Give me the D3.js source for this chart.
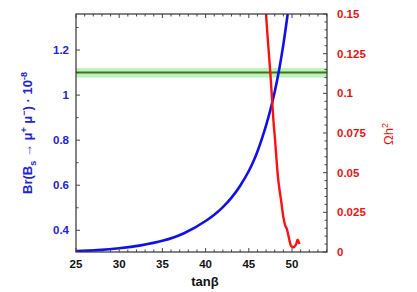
<!DOCTYPE html>
<html>
<head>
<meta charset="utf-8">
<script src="https://cdn.jsdelivr.net/npm/d3@7"></script>
<style>
  body { margin: 0; background: #fff; }
  text { font-family: "Liberation Sans", Arial, sans-serif; font-weight: bold; }
</style>
</head>
<body>
<svg id="chart" width="417" height="292"></svg>
<script>
// values
var tanbTicks = [25, 30, 35, 40, 45, 50];
var brTicks = [0.4, 0.6, 0.8, 1, 1.2];
var omegaTicks = [0, 0.025, 0.05, 0.075, 0.1, 0.125, 0.15];

var brTanb = [25, 27.5, 30, 32.5, 35, 37.5, 40, 41, 42, 43, 44, 45, 45.5, 46, 46.5, 47, 47.5, 48, 48.5, 49, 49.5];
var brVal  = [0.308, 0.312, 0.32, 0.333, 0.353, 0.387, 0.441, 0.469, 0.503, 0.545, 0.598, 0.663, 0.703, 0.75, 0.805, 0.866, 0.935, 1.015, 1.11, 1.225, 1.36];

var omTanb = [46.95, 47.0, 47.5, 47.85, 48.05, 48.4, 48.8, 49.0, 49.2, 49.4, 49.5, 49.7, 49.9, 50.15, 50.45, 50.65, 50.85];
var omVal  = [0.16, 0.150, 0.112, 0.083, 0.070, 0.046, 0.030, 0.022, 0.017, 0.0145, 0.0125, 0.0075, 0.0038, 0.003, 0.0045, 0.0078, 0.005];

var expCentral = 1.1, expLow = 1.078, expHigh = 1.12;

var svg = d3.select("#chart");
var L = 76, R = 327, T = 14, B = 252;

var x = d3.scaleLinear().domain([25, 54.05]).range([L, R]);
var yL = d3.scaleLinear().domain([0.3036, 1.36]).range([B, T]);
var yR = d3.scaleLinear().domain([0, 0.15]).range([B, T]);

svg.append("defs").append("clipPath").attr("id", "clip")
  .append("rect").attr("x", L).attr("y", T).attr("width", R - L).attr("height", B - T);

var plot = svg.append("g").attr("clip-path", "url(#clip)");

// experimental band
plot.append("rect")
  .attr("x", L).attr("width", R - L)
  .attr("y", yL(expHigh)).attr("height", yL(expLow) - yL(expHigh))
  .style("fill", "#b9f5b5");
plot.append("line")
  .attr("x1", L).attr("x2", R)
  .attr("y1", yL(expCentral)).attr("y2", yL(expCentral))
  .style("stroke", "#4b6a2e").style("stroke-width", 2);

var lineBr = d3.line().curve(d3.curveMonotoneX)
  .x(function(d, i){ return x(brTanb[i]); })
  .y(function(d){ return yL(d); });
plot.append("path").datum(brVal)
  .attr("d", lineBr)
  .style("fill", "none").style("stroke", "#1010ee").style("stroke-width", 2.6);

var lineOm = d3.line().curve(d3.curveCatmullRom)
  .x(function(d, i){ return x(omTanb[i]); })
  .y(function(d){ return yR(d); });
plot.append("path").datum(omVal)
  .attr("d", lineOm)
  .style("fill", "none").style("stroke", "#ff1010").style("stroke-width", 2.4);

// frame
svg.append("rect").attr("x", L).attr("y", T).attr("width", R - L).attr("height", B - T)
  .style("fill", "none").style("stroke", "#333").style("stroke-width", 1.2);

var ticks = svg.append("g").style("stroke", "#444").style("stroke-width", 1);

// x ticks (bottom and top, inside)
d3.range(25, 55, 1).forEach(function(v){
  var len = (v % 5 === 0) ? 4 : 2.5;
  ticks.append("line").attr("x1", x(v)).attr("x2", x(v)).attr("y1", B).attr("y2", B - len);
  ticks.append("line").attr("x1", x(v)).attr("x2", x(v)).attr("y1", T).attr("y2", T + len);
});
// left ticks
d3.range(4, 14, 1).forEach(function(k){
  var v = k / 10;
  ticks.append("line").attr("x1", L).attr("x2", L + (k % 2 === 0 ? 4 : 2.5)).attr("y1", yL(v)).attr("y2", yL(v));
});
// right ticks
d3.range(0, 31, 1).forEach(function(i){
  var v = i * 0.005;
  ticks.append("line").attr("x1", R).attr("x2", R - (i % 5 === 0 ? 4 : 2.5)).attr("y1", yR(v)).attr("y2", yR(v));
});

// tick labels
svg.append("g").selectAll("text").data(tanbTicks).enter().append("text")
  .attr("x", function(d){ return x(d); }).attr("y", 268)
  .attr("text-anchor", "middle").style("font-size", "11.5px").style("fill", "#111")
  .text(function(d){ return d; });

svg.append("g").selectAll("text").data(brTicks).enter().append("text")
  .attr("x", 69).attr("y", function(d){ return yL(d) + 4; })
  .attr("text-anchor", "end").style("font-size", "11.5px").style("fill", "#2222dd")
  .text(function(d){ return d; });

svg.append("g").selectAll("text").data(omegaTicks).enter().append("text")
  .attr("x", 337).attr("y", function(d){ return yR(d) + 4; })
  .attr("text-anchor", "start").style("font-size", "11.5px").style("fill", "#ee1111")
  .text(function(d){ return d; });

// axis titles
svg.append("text").attr("x", 205).attr("y", 286).attr("text-anchor", "middle")
  .style("font-size", "13px").style("fill", "#111").text("tanβ");

var yt = svg.append("text")
  .attr("transform", "translate(32,133) rotate(-90)")
  .attr("text-anchor", "middle").style("font-size", "13px").style("fill", "#2222dd");
yt.append("tspan").text("Br(B");
yt.append("tspan").attr("dy", 4).style("font-size", "9px").text("s");
yt.append("tspan").attr("dy", -4).text(" → μ");
yt.append("tspan").attr("dy", -5).style("font-size", "9px").text("+");
yt.append("tspan").attr("dy", 5).text(" μ");
yt.append("tspan").attr("dy", -5).style("font-size", "9px").text("−");
yt.append("tspan").attr("dy", 5).text(") · 10");
yt.append("tspan").attr("dy", -5).style("font-size", "9px").text("-8");

var rt = svg.append("text")
  .attr("transform", "translate(393,134) rotate(-90)")
  .attr("text-anchor", "middle").style("font-size", "13px").style("fill", "#ee1111")
  .style("font-weight", "normal");
rt.append("tspan").text("Ωh");
rt.append("tspan").attr("dy", -5).style("font-size", "9px").text("2");
</script>
</body>
</html>
